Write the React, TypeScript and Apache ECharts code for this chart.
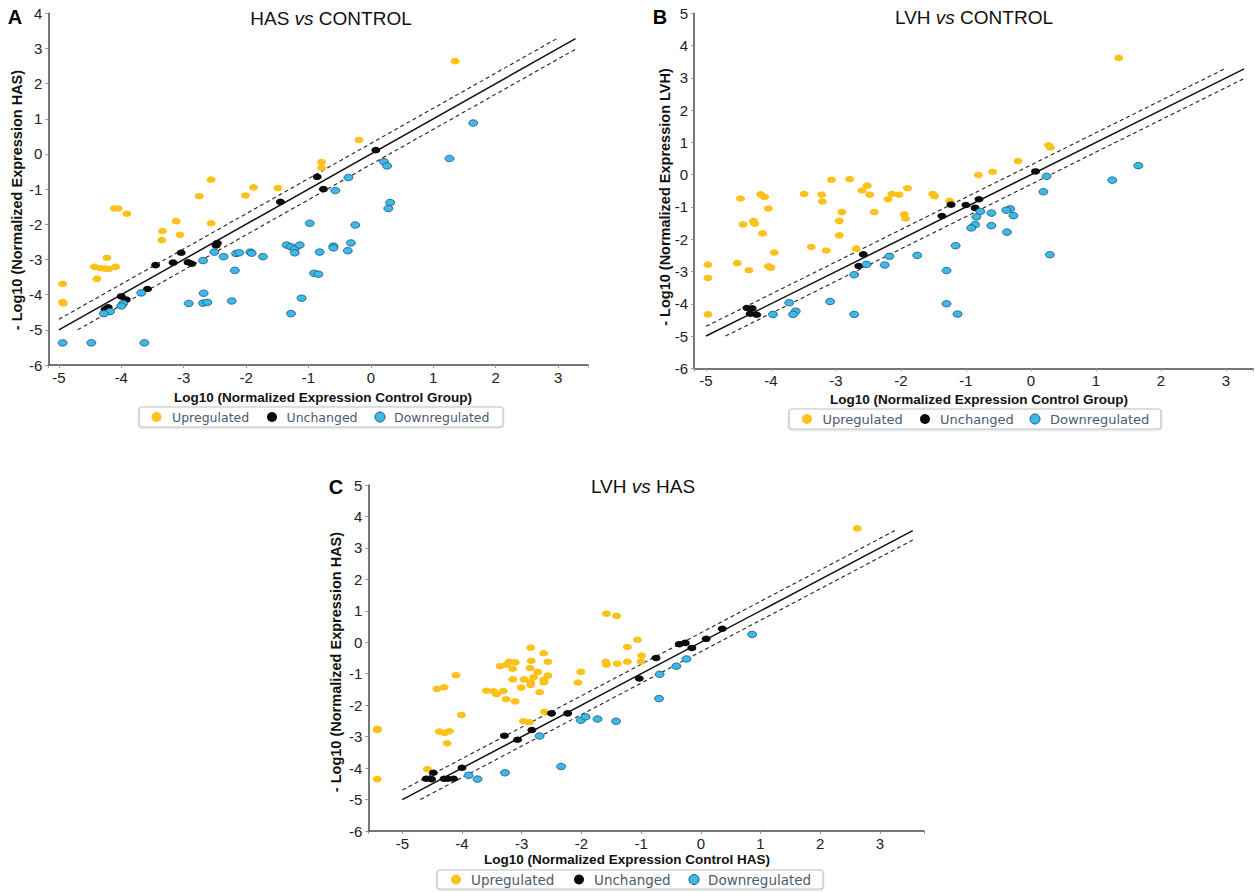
import React, { useEffect, useRef } from "react";
import * as echarts from "echarts";

type P = [number, number];

// ---------- Panel A: HAS vs CONTROL ----------
const aUp: P[] = [
  [1.35, 2.64], [-0.19, 0.4], [-0.79, -0.23], [-0.79, -0.39], [-2.56, -0.73], [-1.88, -0.95],
  [-1.49, -0.97], [-2.01, -1.18], [-2.75, -1.2], [-4.11, -1.55], [-4.05, -1.55], [-3.91, -1.7],
  [-3.12, -1.91], [-2.56, -1.97], [-3.34, -2.19], [-3.06, -2.3], [-3.35, -2.45], [-4.23, -2.95],
  [-4.43, -3.21], [-4.33, -3.25], [-4.26, -3.26], [-4.2, -3.27], [-4.09, -3.21], [-4.39, -3.55],
  [-4.94, -3.69], [-4.94, -4.21], [-4.93, -4.25],
];
const aUnchanged: P[] = [
  [0.08, 0.11], [-0.86, -0.65], [-0.76, -1.0], [-1.45, -1.36], [-2.46, -2.53], [-2.48, -2.6],
  [-3.04, -2.81], [-3.17, -3.09], [-2.93, -3.08], [-2.87, -3.12], [-3.45, -3.16], [-3.58, -3.84],
  [-4.0, -4.05], [-3.92, -4.14], [-4.21, -4.36], [-4.26, -4.42],
];
const aDown: P[] = [
  [1.64, 0.88], [1.26, -0.13], [0.21, -0.22], [0.26, -0.34], [-0.36, -0.67], [-0.57, -1.04],
  [0.31, -1.38], [0.28, -1.55], [-0.98, -1.97], [-0.25, -2.02], [-0.32, -2.53], [-0.37, -2.75],
  [-1.35, -2.59], [-1.28, -2.64], [-1.22, -2.7], [-1.14, -2.59], [-1.22, -2.81], [-0.82, -2.79],
  [-0.6, -2.62], [-0.6, -2.67], [-2.69, -3.03], [-2.51, -2.79], [-2.36, -2.92], [-2.16, -2.83],
  [-2.11, -2.81], [-1.93, -2.79], [-1.91, -2.82], [-1.73, -2.92], [-2.18, -3.31], [-0.91, -3.39],
  [-0.84, -3.42], [-1.11, -4.1], [-1.28, -4.54], [-2.68, -3.96], [-2.92, -4.25], [-2.69, -4.24],
  [-2.62, -4.22], [-2.23, -4.18], [-3.68, -3.95], [-3.97, -4.25], [-4.0, -4.32], [-4.18, -4.48],
  [-4.28, -4.54], [-4.94, -5.37], [-4.48, -5.37], [-3.63, -5.37],
];

// ---------- Panel B: LVH vs CONTROL ----------
const bUp: P[] = [
  [1.35, 3.62], [0.27, 0.91], [0.3, 0.84], [-0.2, 0.42], [-0.59, 0.09], [-0.81, -0.01],
  [-1.25, -0.81], [-1.51, -0.6], [-1.48, -0.67], [-1.9, -0.42], [-2.03, -0.62], [-2.14, -0.6],
  [-2.2, -0.76], [-1.95, -1.23], [-1.93, -1.36], [-2.41, -1.16], [-2.48, -0.62], [-2.52, -0.34],
  [-2.6, -0.49], [-2.79, -0.14], [-3.07, -0.16], [-3.49, -0.6], [-3.22, -0.62], [-3.21, -0.83],
  [-2.91, -1.16], [-2.95, -1.43], [-2.95, -1.88], [-2.69, -2.29], [-3.38, -2.24], [-3.15, -2.35],
  [-4.47, -0.74], [-4.16, -0.61], [-4.1, -0.69], [-4.04, -1.05], [-4.27, -1.44], [-4.25, -1.52],
  [-4.43, -1.54], [-4.13, -1.82], [-3.95, -2.41], [-4.52, -2.74], [-4.34, -2.96], [-4.04, -2.84],
  [-4.0, -2.88], [-4.97, -2.79], [-4.97, -3.2], [-4.97, -4.33],
];
const bUnchanged: P[] = [
  [0.07, 0.1], [-0.8, -0.76], [-0.86, -1.03], [-1.0, -0.94], [-1.23, -0.93], [-1.37, -1.28],
  [-2.58, -2.47], [-2.65, -2.83], [-4.37, -4.13], [-4.29, -4.14], [-4.32, -4.31], [-4.22, -4.34],
];
const bDown: P[] = [
  [1.65, 0.28], [1.25, -0.17], [0.24, -0.05], [0.19, -0.53], [0.29, -2.48], [-0.27, -1.27],
  [-0.32, -1.06], [-0.38, -1.1], [-0.37, -1.78], [-0.61, -1.19], [-0.61, -1.58], [-0.78, -1.14],
  [-0.84, -1.31], [-0.86, -1.55], [-0.92, -1.65], [-1.16, -2.2], [-1.3, -2.97], [-1.3, -4.0],
  [-1.13, -4.32], [-1.75, -2.5], [-2.18, -2.53], [-2.25, -2.8], [-2.53, -2.78], [-2.72, -3.1],
  [-2.72, -4.33], [-3.09, -3.93], [-3.72, -3.97], [-3.62, -4.23], [-3.66, -4.33], [-3.97, -4.33],
];

// ---------- Panel C: LVH vs HAS ----------
const cUp: P[] = [
  [2.62, 3.62], [-1.58, 0.91], [-1.41, 0.84], [-1.06, 0.08], [-1.23, -0.15], [-0.99, -0.42],
  [-1.0, -0.61], [-1.23, -0.62], [-1.59, -0.62], [-1.58, -0.71], [-1.4, -0.68], [-2.01, -0.94],
  [-2.06, -1.28], [-2.85, -0.17], [-2.63, -0.35], [-2.56, -0.62], [-2.84, -0.59], [-2.86, -0.82],
  [-2.73, -0.94], [-2.56, -1.06], [-2.8, -1.11], [-2.63, -1.19], [-2.63, -1.28], [-2.96, -1.18],
  [-2.85, -1.27], [-2.85, -1.36], [-3.01, -1.44], [-2.7, -1.59], [-3.21, -0.62], [-3.11, -0.64],
  [-3.25, -0.71], [-3.36, -0.76], [-3.15, -0.84], [-3.15, -1.18], [-3.31, -1.55], [-3.42, -1.65],
  [-3.47, -1.56], [-3.59, -1.54], [-3.26, -1.81], [-3.11, -1.88], [-4.1, -1.05], [-4.3, -1.43],
  [-4.42, -1.48], [-4.01, -2.31], [-4.38, -2.84], [-4.29, -2.88], [-4.21, -2.83], [-4.25, -3.21],
  [-4.58, -4.03], [-2.97, -2.51], [-2.87, -2.54], [-2.62, -2.21], [-5.42, -2.75], [-5.42, -2.79],
  [-5.42, -4.35],
];
const cUnchanged: P[] = [
  [0.36, 0.43], [0.09, 0.11], [-0.26, -0.02], [-0.36, -0.06], [-0.15, -0.18], [-0.75, -0.5],
  [-1.03, -1.15], [-2.5, -2.26], [-2.23, -2.26], [-2.83, -2.79], [-3.29, -2.97], [-3.07, -3.1],
  [-4.0, -3.99], [-4.48, -4.15], [-4.6, -4.34], [-4.51, -4.35], [-4.3, -4.34], [-4.24, -4.34],
  [-4.14, -4.34],
];
const cDown: P[] = [
  [0.86, 0.25], [-0.24, -0.53], [-0.41, -0.76], [-0.69, -1.02], [-0.7, -1.79], [-1.42, -2.51],
  [-1.73, -2.44], [-2.01, -2.48], [-1.93, -2.37], [-2.7, -2.98], [-2.34, -3.95], [-3.28, -4.15],
  [-3.89, -4.23], [-3.74, -4.35],
];

// ---------- reference lines (identity and +/- 0.3 log bands) ----------
const abIdentity: P[] = [[-5, -5], [3.28, 3.28]];
const abUpper: P[] = [[-5, -4.7], [3.0, 3.3]];
const abLower: P[] = [[-4.7, -5], [3.3, 3.0]];
const cIdentity: P[] = [[-5, -5], [3.55, 3.55]];
const cUpper: P[] = [[-5, -4.7], [3.25, 3.55]];
const cLower: P[] = [[-4.7, -5], [3.55, 3.25]];

// ---------- texts ----------
const panelLetters = ["A", "B", "C"];
const titleLeft = ["HAS", "LVH", "LVH"];
const titleRight = ["CONTROL", "CONTROL", "HAS"];
const xNames = [
  "Log10 (Normalized Expression Control Group)",
  "Log10 (Normalized Expression Control Group)",
  "Log10 (Normalized Expression Control HAS)",
];
const yNames = [
  "- Log10 (Normalized Expression HAS)",
  "- Log10 (Normalized Expression LVH)",
  "- Log10 (Normalized Expression HAS)",
];
const legendLabels = ["Upregulated", "Unchanged", "Downregulated"];

const FONT = "Liberation Sans, Arial, Helvetica, sans-serif";
const YELLOW = "#fcc21b";
const BLACK = "#0b0b0b";
const BLUE = "#3cb9ea";

const layouts = [
  {
    left: 48.3, top: 13.3, width: 539.7, height: 351.7, xMin: -5.17, xMax: 3.48, yMin: -6, yMax: 4,
    letter: [15, 17], title: [331, 18], xName: [323, 397], yName: [17, 200],
    legend: { x: 139, y: 407, w: 364, h: 20, icons: [17.5, 133, 241], texts: [33, 147.5, 255], fs: 12.5 },
  },
  {
    left: 694, top: 13.3, width: 559.3, height: 355, xMin: -5.185, xMax: 3.42, yMin: -6, yMax: 5,
    letter: [660, 17], title: [974, 17], xName: [979, 399], yName: [665, 197],
    legend: { x: 789, y: 409, w: 372, h: 20, icons: [18, 136, 246], texts: [33.5, 151, 261], fs: 13 },
  },
  {
    left: 368.3, top: 485, width: 555.8, height: 346, xMin: -5.57, xMax: 3.74, yMin: -6, yMax: 5,
    letter: [336, 487], title: [643, 486], xName: [627, 859], yName: [336, 662],
    legend: { x: 437, y: 870, w: 386, h: 19, icons: [19, 142, 257], texts: [34, 157, 271], fs: 13.5 },
  },
];

const scatterSets = [
  [aUp, aUnchanged, aDown],
  [bUp, bUnchanged, bDown],
  [cUp, cUnchanged, cDown],
];
const lineSets = [
  [abIdentity, abUpper, abLower],
  [abIdentity, abUpper, abLower],
  [cIdentity, cUpper, cLower],
];

function intLabel(v: number) {
  return Math.abs(v - Math.round(v)) < 1e-6 ? String(Math.round(v)) : "";
}

function buildOption() {
  const grid: any[] = [];
  const xAxis: any[] = [];
  const yAxis: any[] = [];
  const series: any[] = [];
  const graphic: any[] = [];

  layouts.forEach((L, i) => {
    grid.push({ left: L.left, top: L.top, width: L.width, height: L.height, containLabel: false, outerBoundsMode: "none" });
    const axisCommon = {
      type: "value",
      gridIndex: i,
      splitLine: { show: false },
      axisLine: { show: true, onZero: false, lineStyle: { color: "#4a4a4a", width: 1.5 } },
      axisTick: { show: true, length: 3, lineStyle: { color: "#999", width: 1 } },
      axisLabel: { fontFamily: FONT, fontSize: 15, color: "#222", formatter: intLabel },
    };
    xAxis.push({
      ...axisCommon,
      min: L.xMin,
      max: L.xMax,
      splitNumber: 9,
      axisLabel: { ...axisCommon.axisLabel, margin: 5 },
    });
    yAxis.push({
      ...axisCommon,
      min: L.yMin,
      max: L.yMax,
      interval: 1,
      axisLabel: { ...axisCommon.axisLabel, margin: 6 },
    });

    const lines = lineSets[i];
    lines.forEach((d, k) => {
      series.push({
        type: "line",
        xAxisIndex: i,
        yAxisIndex: i,
        data: d,
        symbol: "none",
        silent: true,
        z: 1,
        lineStyle: k === 0 ? { color: "#111", width: 1.5 } : { color: "#222", width: 1.1, type: [4, 3] },
      });
    });

    const sets = scatterSets[i];
    const colors = [YELLOW, BLACK, BLUE];
    sets.forEach((d, k) => {
      series.push({
        name: legendLabels[k],
        type: "scatter",
        xAxisIndex: i,
        yAxisIndex: i,
        data: d,
        symbol: "circle",
        symbolSize: [9, 6.5],
        z: 3,
        itemStyle:
          k === 2
            ? { color: colors[k], borderColor: "#1f5573", borderWidth: 0.8, opacity: 1 }
            : { color: colors[k], opacity: 1 },
      });
    });

    graphic.push({
      type: "text",
      x: L.letter[0],
      y: L.letter[1],
      style: {
        text: panelLetters[i],
        font: `bold 20px ${FONT}`,
        fill: "#000",
        align: "center",
        verticalAlign: "middle",
      },
    });
    graphic.push({
      type: "text",
      x: L.title[0],
      y: L.title[1],
      style: {
        text: `{n|${titleLeft[i]} }{it|vs}{n| ${titleRight[i]}}`,
        rich: {
          n: { fontFamily: FONT, fontSize: 19, fill: "#111" },
          it: { fontFamily: FONT, fontSize: 19, fontStyle: "italic", fill: "#111" },
        },
        align: "center",
        verticalAlign: "middle",
      },
    });
    graphic.push({
      type: "text",
      x: L.xName[0],
      y: L.xName[1],
      style: {
        text: xNames[i],
        font: `bold 13.5px ${FONT}`,
        fill: "#111",
        align: "center",
        verticalAlign: "middle",
      },
    });
    graphic.push({
      type: "text",
      x: L.yName[0],
      y: L.yName[1],
      rotation: Math.PI / 2,
      style: {
        text: yNames[i],
        font: `bold 14.5px ${FONT}`,
        fill: "#111",
        align: "center",
        verticalAlign: "middle",
      },
    });
    const lg = L.legend;
    const children: any[] = [
      {
        type: "rect",
        shape: { x: 0, y: 0, width: lg.w, height: lg.h, r: 3 },
        style: { fill: "#fff", stroke: "#c2c2c2", lineWidth: 1.2, shadowBlur: 2, shadowColor: "rgba(0,0,0,0.15)", shadowOffsetY: 1 },
      },
    ];
    legendLabels.forEach((lab, k) => {
      children.push({
        type: "circle",
        shape: { cx: lg.icons[k], cy: lg.h / 2, r: 5 },
        style: k === 2 ? { fill: BLUE, stroke: "#1f5573", lineWidth: 1 } : { fill: colors[k] },
      });
      children.push({
        type: "text",
        x: lg.texts[k],
        y: lg.h / 2,
        style: {
          text: lab,
          font: `${lg.fs}px DejaVu Sans, sans-serif`,
          fill: "#4a5a70",
          align: "left",
          verticalAlign: "middle",
        },
      });
    });
    graphic.push({ type: "group", x: lg.x, y: lg.y, children });
  });

  return {
    animation: false,
    backgroundColor: "#fff",
    grid,
    xAxis,
    yAxis,
    series,
    graphic,
  };
}

export default function App() {
  const ref = useRef<HTMLDivElement>(null);
  useEffect(() => {
    if (!ref.current) return;
    const chart = echarts.init(ref.current, undefined, { renderer: "svg" });
    chart.setOption(buildOption() as any);
    return () => chart.dispose();
  }, []);
  return (
    <div
      ref={ref}
      style={{ position: "fixed", left: 0, top: 0, width: 1255, height: 892, background: "#fff" }}
    />
  );
}
